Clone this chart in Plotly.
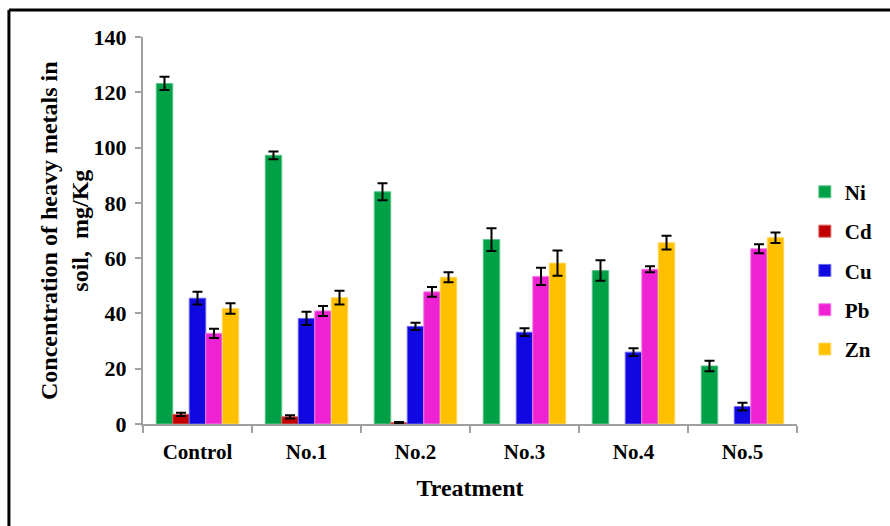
import plotly.graph_objects as go

# Treatments on the x axis
treatments = ["Control", "No.1", "No.2", "No.3", "No.4", "No.5"]

# Mean concentrations (mg/Kg) per metal
ni = [123.2, 97.2, 84.0, 66.7, 55.5, 21.0]
cd = [3.5, 2.6, 0.5, None, None, None]
cu = [45.5, 38.2, 35.3, 33.2, 26.0, 6.3]
pb = [32.8, 40.9, 47.8, 53.4, 56.0, 63.4]
zn = [41.8, 45.7, 53.1, 58.2, 65.6, 67.4]

# Standard errors
ni_err = [2.4, 1.4, 3.1, 4.1, 3.7, 1.9]
cd_err = [0.6, 0.6, 0.2, None, None, None]
cu_err = [2.3, 2.4, 1.3, 1.4, 1.4, 1.4]
pb_err = [1.7, 1.8, 1.8, 3.1, 1.1, 1.6]
zn_err = [1.9, 2.5, 1.8, 4.6, 2.5, 1.9]

series = [
    ("Ni", ni, ni_err, "#00A046", "#5cc48a"),
    ("Cd", cd, cd_err, "#C00000", "#e06060"),
    ("Cu", cu, cu_err, "#1008E0", "#6a66f0"),
    ("Pb", pb, pb_err, "#EE22D2", "#f57ee6"),
    ("Zn", zn, zn_err, "#FFC000", "#ffd966"),
]

FONT = "Liberation Serif, Times New Roman, serif"

fig = go.Figure()
for name, vals, errs, color, edge in series:
    fig.add_trace(go.Bar(
        name=name,
        x=treatments,
        y=vals,
        legendgroup=name,
        marker=dict(color=color, line=dict(color=edge, width=1)),
        error_y=dict(type="data", array=errs, visible=True,
                     color="black", thickness=2, width=5),
    ))

fig.update_layout(
    width=890, height=526,
    barmode="group",
    bargap=0.243,
    bargroupgap=0,
    plot_bgcolor="white",
    paper_bgcolor="white",
    margin=dict(l=143, r=89, t=37, b=102),
    font=dict(family=FONT, size=21, color="black", weight="bold"),
    showlegend=True,
    legend=dict(
        x=1.012, y=0.652, xanchor="left", yanchor="top",
        font=dict(family=FONT, size=21, color="black", weight="bold"),
        tracegroupgap=9,
        bgcolor="rgba(0,0,0,0)",
    ),
    xaxis=dict(
        type="category",
        showline=True, linecolor="#A0A0A0", linewidth=2,
        ticks="outside", tickson="boundaries", ticklen=7,
        tickcolor="#A0A0A0", tickwidth=2,
        ticklabelstandoff=8,
        tickfont=dict(family=FONT, size=21, color="black", weight="bold"),
        title=dict(text="Treatment", standoff=16,
                   font=dict(family=FONT, size=24, color="black", weight="bold")),
        showgrid=False,
        zeroline=False,
    ),
    yaxis=dict(
        range=[0, 140], dtick=20,
        showline=True, linecolor="#A0A0A0", linewidth=2,
        ticks="outside", ticklen=6, tickcolor="#A0A0A0", tickwidth=2,
        ticklabelstandoff=4,
        tickfont=dict(family=FONT, size=22, color="black", weight="bold"),
        showgrid=False,
        zeroline=False,
    ),
    annotations=[dict(
        text="Concentration of heavy metals in<br>soil,\u00a0 mg/Kg",
        textangle=-90,
        xref="paper", yref="paper",
        x=-0.12, y=0.5, xanchor="center", yanchor="middle",
        showarrow=False,
        font=dict(family=FONT, size=24, color="black", weight="bold"),
    )],
    shapes=[
        # frame: top and left edges
        dict(type="line", xref="paper", yref="paper",
             x0=-0.205, x1=1.2, y0=1.070, y1=1.070,
             line=dict(color="black", width=3)),
        dict(type="line", xref="paper", yref="paper",
             x0=-0.205, x1=-0.205, y0=1.070, y1=-0.3,
             line=dict(color="black", width=3)),
    ],
)

fig.write_html("out.html")
